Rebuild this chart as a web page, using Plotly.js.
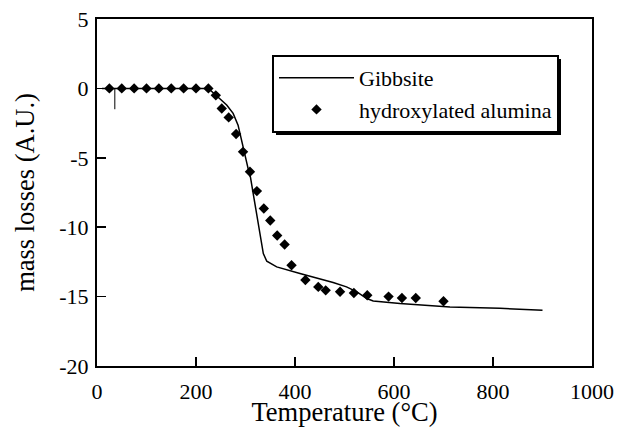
<!DOCTYPE html>
<html>
<head>
<meta charset="utf-8">
<script src="https://cdn.plot.ly/plotly-3.0.1.min.js"></script>
<style>html,body{margin:0;padding:0;background:#fff;}#chart{width:617px;height:427px;}</style>
</head>
<body>
<div id="chart"></div>
<script>
// Gibbsite curve (line)
var gibbsiteT = [10, 225, 242, 262, 275, 285, 292, 299, 306, 310, 316, 323, 329, 336, 343, 363, 410, 444, 477, 504, 525, 545, 558, 612, 679, 713, 814, 900];
var gibbsiteY = [0, 0, -0.55, -1.2, -1.8, -2.65, -3.73, -4.93, -5.89, -6.4, -7.7, -9.25, -10.7, -11.9, -12.45, -12.86, -13.34, -13.65, -13.99, -14.3, -14.66, -15.14, -15.31, -15.5, -15.67, -15.75, -15.84, -15.98];
// hydroxylated alumina (diamonds)
var aluminaT = [25, 50, 75, 100, 125, 150, 175, 200, 225, 240, 252, 266, 281, 295, 309, 323, 337, 350, 364, 379, 393, 421, 447, 462, 491, 519, 546, 589, 616, 644, 700];
var aluminaY = [0, 0, 0, 0, 0, 0, 0, 0, 0, -0.5, -1.45, -2.09, -3.29, -4.57, -6.0, -7.4, -8.65, -9.52, -10.6, -11.25, -12.74, -13.8, -14.3, -14.55, -14.65, -14.74, -14.9, -15.0, -15.1, -15.1, -15.33];
// small vertical mark near the start
var markT = [36, 36];
var markY = [0, -1.5];
// tick labels
var xTickVals = [0, 200, 400, 600, 800, 1000];
var xTickText = ["0", "200", "400", "600", "800", "1000"];
var yTickVals = [5, 0, -5, -10, -15, -20];
var yTickText = ["5", "0", "-5", "-10", "-15", "-20"];

var font = "Liberation Serif";

var traces = [
  {x: gibbsiteT, y: gibbsiteY, mode: "lines", name: "Gibbsite",
   line: {color: "#000", width: 1.5}},
  {x: aluminaT, y: aluminaY, mode: "markers", name: "hydroxylated alumina",
   marker: {symbol: "diamond", size: 8, color: "#000"}},
  {x: markT, y: markY, mode: "lines", showlegend: false, hoverinfo: "skip",
   line: {color: "#000", width: 1}}
];

// legend box geometry in pixels (for its drop shadow)
var legLeft = 272, legTop = 55, legW = 286, legH = 77;

var layout = {
  width: 617, height: 427,
  margin: {l: 97, r: 25, t: 19, b: 61, pad: 0},
  paper_bgcolor: "#fff", plot_bgcolor: "#fff",
  font: {family: font, size: 22, color: "#000"},
  showlegend: true,
  xaxis: {
    range: [0, 1000], tickvals: xTickVals, ticktext: xTickText,
    ticks: "inside", ticklen: 9, tickwidth: 1.5, tickcolor: "#000",
    showline: true, linecolor: "#000", linewidth: 2, mirror: true,
    showgrid: false, zeroline: false, ticklabelstandoff: 5,
    tickfont: {family: font, size: 22},
    title: {text: "Temperature (°C)", font: {family: font, size: 26.5}, standoff: 6}
  },
  yaxis: {
    range: [-20, 5], tickvals: yTickVals, ticktext: yTickText,
    ticks: "inside", ticklen: 9, tickwidth: 1.5, tickcolor: "#000",
    showline: true, linecolor: "#000", linewidth: 2, mirror: true,
    showgrid: false, zeroline: false, ticklabelstandoff: 2,
    tickfont: {family: font, size: 22},
    title: {text: "mass losses (A.U.)", font: {family: font, size: 26.5}, standoff: 17}
  },
  legend: {
    x: (legLeft - 97) / 495, y: (366 - legTop) / 347, xanchor: "left", yanchor: "top",
    bgcolor: "#fff", bordercolor: "#000", borderwidth: 2,
    font: {family: font, size: 22}, tracegroupgap: 0, itemwidth: 75
  },
  shapes: [
    {type: "rect", xref: "paper", yref: "paper",
     x0: (legLeft + 4 - 97) / 495, x1: (legLeft + legW + 3 - 97) / 495,
     y0: (366 - (legTop + legH + 3)) / 347, y1: (366 - (legTop + 4)) / 347,
     fillcolor: "#000", line: {width: 0}, layer: "above"}
  ]
};

Plotly.newPlot("chart", traces, layout, {staticPlot: true, displayModeBar: false});
</script>
</body>
</html>
